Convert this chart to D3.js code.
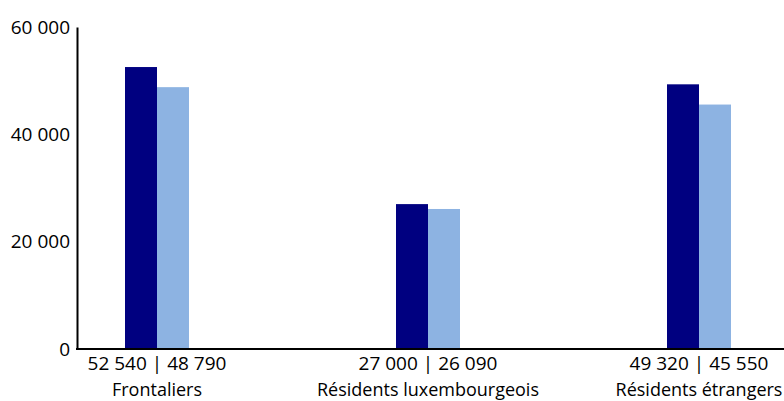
<!DOCTYPE html>
<html><head><meta charset="utf-8">
<script src="https://cdn.jsdelivr.net/npm/d3@7"></script>
<style>body{margin:0;background:#fff}svg{display:block}text{font-family:"Open Sans",sans-serif;fill:#000}</style>
</head><body><svg id="c" width="784" height="401"></svg>
<script>
const categories = ["Frontaliers", "Résidents luxembourgeois", "Résidents étrangers"];
const series1 = [52540, 27000, 49320];
const series2 = [48790, 26090, 45550];
const valueLabels = ["52 540 | 48 790", "27 000 | 26 090", "49 320 | 45 550"];
const yTicks = [0, 20000, 40000, 60000];
const yTickLabels = ["0", "20 000", "40 000", "60 000"];

const svg = d3.select("#c");
const x = d3.scalePoint().domain(categories).range([157, 699]);
const y = d3.scaleLinear().domain([0, 60000]).range([349, 27]);
const bw = 32;

const g = svg.append("g");
g.selectAll(".b1").data(categories).join("rect")
  .attr("x", d => x(d) - bw).attr("width", bw)
  .attr("y", (d,i) => y(series1[i])).attr("height", (d,i) => y(0) - y(series1[i]))
  .attr("fill", "#000080");
g.selectAll(".b2").data(categories).join("rect")
  .attr("x", d => x(d)).attr("width", bw)
  .attr("y", (d,i) => y(series2[i])).attr("height", (d,i) => y(0) - y(series2[i]))
  .attr("fill", "#8db3e2");

// y axis
const yAxis = d3.axisLeft(y).tickValues(yTicks).tickSize(0).tickPadding(7)
  .tickFormat((d,i) => yTickLabels[i]);
const ya = svg.append("g").attr("transform", "translate(77,0)").call(yAxis);
ya.select(".domain").attr("stroke", "#000").attr("stroke-width", 2);
ya.selectAll("text").attr("font-size", 19).attr("font-family", "Open Sans").attr("fill", "#000");

// x axis line
svg.append("line").attr("x1", 76).attr("x2", 784).attr("y1", y(0)).attr("y2", y(0))
  .attr("stroke", "#000").attr("stroke-width", 2);

// category labels
const lab = svg.append("g");
lab.selectAll(".v").data(categories).join("text")
  .attr("x", d => x(d)).attr("y", 370).attr("text-anchor", "middle")
  .attr("font-size", 19).text((d,i) => valueLabels[i]);
lab.selectAll(".n").data(categories).join("text")
  .attr("x", d => x(d)).attr("y", 396).attr("text-anchor", "middle")
  .attr("font-size", 18).text(d => d);
</script></body></html>
